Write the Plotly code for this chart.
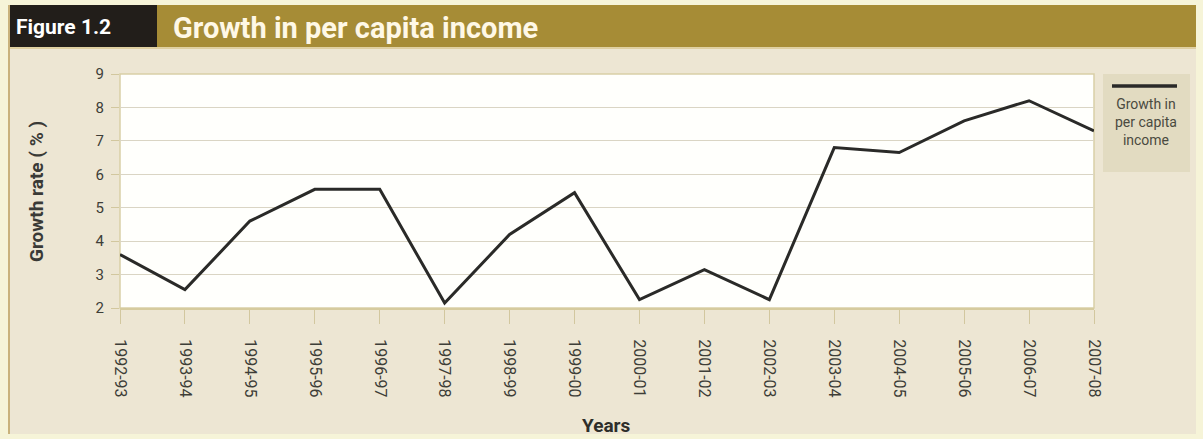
import plotly.graph_objects as go

years = ["1992-93", "1993-94", "1994-95", "1995-96", "1996-97", "1997-98",
         "1998-99", "1999-00", "2000-01", "2001-02", "2002-03", "2003-04",
         "2004-05", "2005-06", "2006-07", "2007-08"]
growth = [3.6, 2.55, 4.6, 5.55, 5.55, 2.15, 4.2, 5.45, 2.25, 3.15, 2.25,
          6.8, 6.65, 7.6, 8.2, 7.3]
series_name = "Growth in<br>per capita<br>income"
y_ticks = [2, 3, 4, 5, 6, 7, 8, 9]

W, H = 1203, 439
L, R, T, B = 120, 1094, 74, 308

def px(x):
    return (x - L) / (R - L)

def py(y):
    return (B - y) / (B - T)

FONT = "Roboto, Liberation Sans, sans-serif"

fig = go.Figure()
fig.add_trace(go.Scatter(
    x=list(range(len(years))), y=growth, mode="lines",
    name="Growth in per capita income",
    line=dict(color="#2a2a28", width=3), showlegend=False,
))

shapes = [
    dict(type="rect", xref="paper", yref="paper", x0=px(10), x1=px(1196),
         y0=py(434), y1=py(48), fillcolor="#EDE6D3", line_width=0, layer="below"),
    dict(type="line", xref="paper", yref="paper", x0=px(9), x1=px(9),
         y0=py(434), y1=py(5), line=dict(color="#C9B27C", width=2), layer="below"),
    dict(type="rect", xref="paper", yref="paper", x0=px(157), x1=px(1196),
         y0=py(47), y1=py(5), fillcolor="#A68C36", line_width=0, layer="below"),
    dict(type="rect", xref="paper", yref="paper", x0=px(10), x1=px(157),
         y0=py(47), y1=py(5), fillcolor="#221E1A", line_width=0, layer="below"),
    dict(type="line", xref="paper", yref="paper", x0=px(10), x1=px(1196),
         y0=py(48), y1=py(48), line=dict(color="#D8C690", width=1.5), layer="below"),
    dict(type="rect", xref="paper", yref="paper", x0=0, x1=1, y0=0, y1=1,
         fillcolor="#FFFFFC", line=dict(color="#D9CFA6", width=1.5), layer="below"),
    dict(type="rect", xref="paper", yref="paper", x0=px(1103), x1=px(1190),
         y0=py(172), y1=py(74), fillcolor="#E2DBC1", line_width=0, layer="below"),
    dict(type="line", xref="paper", yref="paper", x0=px(1112), x1=px(1177),
         y0=py(86), y1=py(86), line=dict(color="#2a2a28", width=3.5)),
]

annotations = [
    dict(text="<b>Figure 1.2</b>", xref="paper", yref="paper", x=px(14), y=py(27),
         showarrow=False, font=dict(family=FONT, size=21, color="#FFFFFF"),
         xanchor="left", yanchor="middle"),
    dict(text="<b>Growth in per capita income</b>", xref="paper", yref="paper",
         x=px(171), y=py(28), showarrow=False,
         font=dict(family=FONT, size=29, color="#FFF8E6"),
         xanchor="left", yanchor="middle"),
    dict(text=series_name, xref="paper", yref="paper", x=px(1146), y=py(94),
         showarrow=False, font=dict(family=FONT, size=14, color="#4a4a40"),
         xanchor="center", yanchor="top", align="center"),
    dict(text="<b>Growth rate ( % )</b>", xref="paper", yref="paper",
         x=px(36), y=py(192),
         showarrow=False, textangle=-90,
         font=dict(family=FONT, size=19, color="#3a3a36"),
         xanchor="center", yanchor="middle"),
    dict(text="<b>Years</b>", xref="paper", yref="paper", x=px(606), y=py(425),
         showarrow=False, font=dict(family=FONT, size=19, color="#2e2e2a"),
         xanchor="center", yanchor="middle"),
]

fig.update_layout(
    width=W, height=H,
    margin=dict(l=L, r=W - R, t=T, b=H - B, pad=0),
    paper_bgcolor="#F6F4D8",
    plot_bgcolor="rgba(0,0,0,0)",
    shapes=shapes, annotations=annotations,
    showlegend=False,
    font=dict(family=FONT, color="#3a3a36"),
)
fig.update_xaxes(
    range=[0, len(years) - 1], tickmode="array",
    tickvals=list(range(len(years))), ticktext=years,
    tickangle=90, ticks="outside", ticklen=14, tickcolor="#D2C79E", tickwidth=1,
    ticklabelstandoff=12,
    showgrid=False, zeroline=False, showline=True, linecolor="#D6CB9E", linewidth=2,
    tickfont=dict(family=FONT, size=16, color="#3e3e38"),
)
fig.update_yaxes(
    range=[2, 9], tickvals=y_ticks, ticks="outside", ticklen=8,
    tickcolor="#D2C79E", showgrid=True, gridcolor="#DAD5C4", gridwidth=1.2,
    zeroline=False, showline=False, ticklabelstandoff=4,
    tickfont=dict(family=FONT, size=15, color="#3e3e38"),
)

fig.write_html("out.html", config={"displayModeBar": False},
               post_script="document.body.style.margin='0';document.body.style.overflow='hidden';")
